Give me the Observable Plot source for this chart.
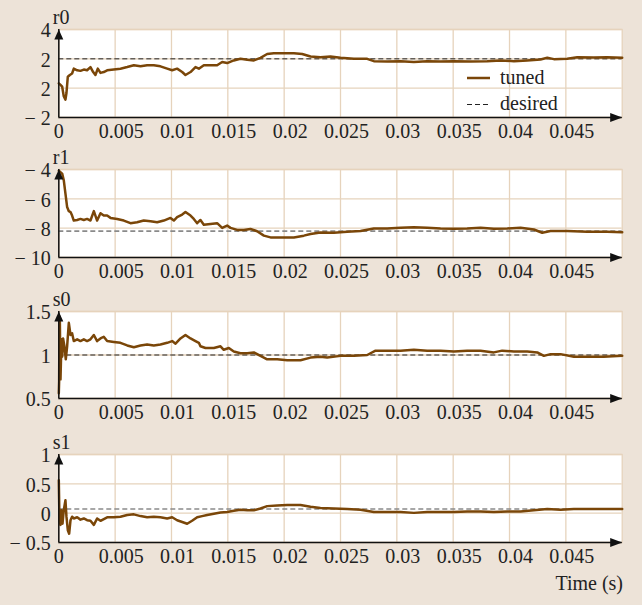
<!DOCTYPE html>
<html><head><meta charset="utf-8">
<script src="https://cdn.jsdelivr.net/npm/d3@7"></script>
<script src="https://cdn.jsdelivr.net/npm/@observablehq/plot@0.6"></script>
<style>
html,body{margin:0;padding:0;background:#ede3d8;}
#chart{position:relative;width:642px;height:605px;background:#ede3d8;font-family:"Liberation Serif","Times New Roman",serif;overflow:hidden;}
#chart .panel{position:absolute;left:0;}
#overlay{position:absolute;left:0;top:0;pointer-events:none;}
</style></head>
<body><div id="chart"></div>
<script>
// ---------- data (time in seconds) ----------
const r0Time = [0,0.00015,0.0003,0.00044,0.00059,0.00068,0.0008,0.00098,0.00118,0.00133,0.00163,0.00192,0.00222,0.00251,0.00281,0.00305,0.00325,0.00346,0.0037,0.00399,0.00429,0.00488,0.00547,0.00607,0.00666,0.00725,0.00784,0.00843,0.00902,0.00962,0.01006,0.0105,0.01095,0.01124,0.01169,0.01213,0.01243,0.01287,0.01346,0.01405,0.0145,0.01494,0.01553,0.01612,0.01672,0.01731,0.0179,0.01849,0.01908,0.01997,0.02086,0.0216,0.02234,0.02322,0.02411,0.025,0.02619,0.02737,0.02796,0.02914,0.03033,0.03151,0.03269,0.03388,0.03506,0.03654,0.03802,0.0392,0.04039,0.04157,0.04275,0.04335,0.04394,0.04512,0.04601,0.04749,0.04867,0.05];
const r0Tuned = [0.33,0.22,0.1,-0.55,-0.78,-0.33,0.78,0.9,1.0,1.33,1.22,1.18,1.27,1.22,1.44,1.1,0.9,1.33,1.04,1.1,1.22,1.27,1.33,1.44,1.56,1.49,1.56,1.56,1.49,1.33,1.22,1.33,1.1,0.9,1.1,1.44,1.33,1.56,1.56,1.56,1.78,1.71,1.89,2.0,1.93,1.89,2.07,2.33,2.38,2.38,2.38,2.33,2.16,2.1,2.16,2.07,2.0,2.0,1.84,1.82,1.84,1.78,1.84,1.82,1.84,1.82,1.84,1.89,1.84,1.89,1.96,2.07,1.98,2.0,2.11,2.09,2.11,2.07];
const r0Desired = 2;

const r1Time = [0,0.0003,0.00044,0.00059,0.00074,0.00089,0.00104,0.00118,0.00133,0.00163,0.00192,0.00222,0.00251,0.00281,0.00311,0.0034,0.0037,0.00399,0.00429,0.00459,0.00518,0.00577,0.00636,0.00695,0.00754,0.00814,0.00873,0.00932,0.00991,0.01021,0.0105,0.01095,0.01124,0.01169,0.01198,0.01228,0.01257,0.01287,0.01346,0.01405,0.0145,0.01494,0.01524,0.01583,0.01642,0.01701,0.0176,0.0182,0.01879,0.01997,0.02086,0.02175,0.02234,0.02322,0.02441,0.02559,0.02678,0.02796,0.02914,0.03033,0.03151,0.03269,0.03388,0.03506,0.03624,0.03743,0.03861,0.0398,0.04098,0.04216,0.0429,0.04364,0.04512,0.0469,0.04867,0.05];
const r1Tuned = [-4.09,-4.28,-4.73,-5.65,-6.56,-6.84,-6.9,-7.14,-7.48,-7.44,-7.37,-7.44,-7.37,-7.48,-6.84,-7.48,-6.98,-7.14,-7.14,-7.3,-7.37,-7.48,-7.66,-7.6,-7.48,-7.53,-7.6,-7.48,-7.3,-7.48,-7.25,-7.07,-6.9,-7.14,-7.37,-7.66,-7.44,-7.76,-7.71,-7.66,-7.98,-7.82,-7.98,-8.12,-8.12,-8.05,-8.21,-8.51,-8.63,-8.63,-8.63,-8.51,-8.4,-8.3,-8.31,-8.25,-8.2,-8.02,-8.02,-7.97,-7.93,-7.97,-8.02,-8.04,-8.02,-7.97,-8.04,-8.02,-7.97,-8.09,-8.31,-8.2,-8.2,-8.25,-8.25,-8.27];
const r1Desired = -8.2;

const s0Time = [0,0.00003,0.00006,0.00009,0.00015,0.00024,0.0003,0.00038,0.0005,0.00062,0.00074,0.00089,0.00104,0.00118,0.00133,0.00163,0.00192,0.00222,0.00251,0.00281,0.00311,0.0034,0.0037,0.00399,0.00429,0.00488,0.00547,0.00607,0.00666,0.00725,0.00784,0.00843,0.00902,0.00962,0.01006,0.01036,0.0108,0.01124,0.01169,0.01213,0.01243,0.01257,0.01302,0.01376,0.01435,0.01464,0.01509,0.01553,0.01612,0.01672,0.01731,0.0179,0.01849,0.01938,0.02027,0.02145,0.02234,0.02322,0.02382,0.025,0.02619,0.02737,0.02811,0.02914,0.03033,0.03151,0.03269,0.03388,0.03506,0.03624,0.03743,0.03861,0.03935,0.04039,0.04157,0.04246,0.04305,0.04364,0.04453,0.04571,0.0469,0.04837,0.05];
const s0Tuned = [0.56,0.7,1.37,1.44,0.72,1.18,0.98,1.19,1.1,0.95,1.1,1.37,1.23,1.25,1.16,1.18,1.16,1.18,1.16,1.18,1.23,1.16,1.19,1.21,1.16,1.15,1.14,1.11,1.09,1.11,1.12,1.11,1.12,1.14,1.16,1.13,1.19,1.23,1.19,1.16,1.14,1.1,1.08,1.08,1.1,1.06,1.08,1.04,1.02,1.02,1.03,0.99,0.95,0.95,0.94,0.94,0.97,0.98,0.97,0.99,0.99,1.0,1.05,1.05,1.05,1.06,1.05,1.05,1.04,1.05,1.05,1.03,1.05,1.04,1.04,1.03,0.99,1.01,1.01,0.98,0.98,0.98,0.99];
const s0Desired = 1;

const s1Time = [0,0.00006,0.00015,0.00024,0.00033,0.00044,0.00059,0.00068,0.0008,0.00092,0.00104,0.00118,0.00133,0.00163,0.00192,0.00222,0.00251,0.00281,0.00311,0.0034,0.0037,0.00429,0.00488,0.00547,0.00607,0.00666,0.00725,0.00784,0.00843,0.00902,0.00962,0.01006,0.0105,0.01095,0.01139,0.01183,0.01228,0.01272,0.01317,0.01376,0.01435,0.01494,0.01553,0.01612,0.01672,0.01731,0.0179,0.01849,0.01938,0.02027,0.02145,0.02234,0.02322,0.02441,0.02559,0.02678,0.02796,0.02914,0.03033,0.03151,0.03269,0.03388,0.03506,0.03624,0.03743,0.03861,0.0398,0.04098,0.04216,0.04335,0.04453,0.04571,0.0469,0.04867,0.05];
const s1Tuned = [0.56,-0.12,-0.2,0.05,-0.18,0.05,0.22,-0.06,-0.29,-0.35,-0.12,-0.06,-0.09,-0.07,-0.11,-0.09,-0.12,-0.13,-0.2,-0.09,-0.13,-0.07,-0.07,-0.06,-0.03,-0.02,-0.05,-0.07,-0.06,-0.07,-0.09,-0.07,-0.12,-0.15,-0.18,-0.13,-0.07,-0.05,-0.03,-0.01,0.01,0.02,0.04,0.06,0.05,0.05,0.08,0.12,0.13,0.14,0.14,0.11,0.09,0.08,0.07,0.06,0.02,0.02,0.02,0.005,0.02,0.02,0.02,0.03,0.03,0.02,0.03,0.03,0.05,0.07,0.06,0.07,0.07,0.07,0.07];
const s1Desired = 0.07;

// ---------- ticks ----------
const timeDomain = [0, 0.05];
const timeTicks = [0,0.005,0.01,0.015,0.02,0.025,0.03,0.035,0.04,0.045];
const timeLabels = ["0","0.005","0.01","0.015","0.02","0.025","0.03","0.035","0.04","0.045"];

const r0Domain = [-2, 4];
const r0Ticks = [-2, 0, 2, 4];
const r0Labels = ["\u2212 2", "2", "2", "4"];
const r1Domain = [-10, -4];
const r1Ticks = [-10, -8, -6, -4];
const r1Labels = ["\u2212 10", "\u2212 8", "\u2212 6", "\u2212 4"];
const s0Domain = [0.5, 1.5];
const s0Ticks = [0.5, 1, 1.5];
const s0Labels = ["0.5", "1", "1.5"];
const s1Domain = [-0.5, 1];
const s1Ticks = [-0.5, 0, 0.5, 1];
const s1Labels = ["\u2212 0.5", "0", "0.5", "1"];

const panelNames = ["r0", "r1", "s0", "s1"];
const legendLabels = ["tuned", "desired"];
const xTitle = "Time (s)";

// ---------- styles ----------
const BG = "#ede3d8", GRID = "#e6d3bc", CURVE = "#7a4608", FONT = "Liberation Serif, Times New Roman, serif", FS = 20;

const arrowUp = {draw(ctx){ctx.moveTo(0,0);ctx.lineTo(-4.5,10);ctx.lineTo(4.5,10);ctx.closePath();}};
const arrowRight = {draw(ctx){ctx.moveTo(0,0);ctx.lineTo(-12,-4.5);ctx.lineTo(-12,4.5);ctx.closePath();}};

const panels = [
  {name: panelNames[0], time: r0Time, vals: r0Tuned, desired: r0Desired, domain: r0Domain, ticks: r0Ticks, labels: r0Labels, top: 0, inner: 88, dash: {stroke: "#222", w: 1}},
  {name: panelNames[1], time: r1Time, vals: r1Tuned, desired: r1Desired, domain: r1Domain, ticks: r1Ticks, labels: r1Labels, top: 140, inner: 88, dash: {stroke: "#8a8a8a", w: 1.6}},
  {name: panelNames[2], time: s0Time, vals: s0Tuned, desired: s0Desired, domain: s0Domain, ticks: s0Ticks, labels: s0Labels, top: 282, inner: 87, dash: {stroke: "#222", w: 1}},
  {name: panelNames[3], time: s1Time, vals: s1Tuned, desired: s1Desired, domain: s1Domain, ticks: s1Ticks, labels: s1Labels, top: 425, inner: 88, dash: {stroke: "#8a8a8a", w: 1.6}}
];

const chart = document.getElementById("chart");
for (const p of panels) {
  const data = p.time.map((t, i) => ({t, v: p.vals[i]}));
  const mt = 29, mb = 24;
  const svg = Plot.plot({
    width: 642,
    height: mt + p.inner + mb,
    marginLeft: 58.3,
    marginRight: 20.3,
    marginTop: mt,
    marginBottom: mb,
    style: {background: "transparent", fontFamily: FONT, fontSize: FS + "px", color: "#222", overflow: "visible"},
    x: {domain: timeDomain, axis: null},
    y: {domain: p.domain, axis: null},
    marks: [
      Plot.frame({fill: "white", stroke: null}),
      Plot.gridX(timeTicks, {stroke: GRID, strokeOpacity: 1, strokeWidth: 1.3}),
      Plot.gridY(p.ticks, {stroke: GRID, strokeOpacity: 1, strokeWidth: 1.3}),
      Plot.frame({stroke: GRID, strokeWidth: 1.3}),
      Plot.ruleY([p.desired], {stroke: p.dash.stroke, strokeWidth: p.dash.w, strokeDasharray: "5,3"}),
      Plot.line(data, {x: "t", y: "v", stroke: CURVE, strokeWidth: 2.5, strokeLinejoin: "round"}),
      Plot.ruleX([timeDomain[0]], {stroke: "#111", strokeWidth: 1.5}),
      Plot.ruleY([p.domain[0]], {stroke: "#111", strokeWidth: 1.5}),
      Plot.dot([0], {x: () => timeDomain[0], y: () => p.domain[1], symbol: arrowUp, fill: "#111", stroke: null}),
      Plot.dot([0], {x: () => timeDomain[1], y: () => p.domain[0], symbol: arrowRight, fill: "#111", stroke: null}),
      Plot.text(timeTicks.slice(0, 1), {x: d => d, text: (d, i) => timeLabels[i], frameAnchor: "bottom", lineAnchor: "top", dy: 6, fontSize: FS, fill: "#222"}),
      Plot.text(timeTicks.slice(1), {x: d => d, text: (d, i) => timeLabels[i + 1], frameAnchor: "bottom", lineAnchor: "top", dy: 6, dx: 6, fontSize: FS, fill: "#222"}),
      Plot.text(p.ticks, {y: d => d, text: (d, i) => p.labels[i], frameAnchor: "left", textAnchor: "end", dx: -8, dy: 1.5, fontSize: FS, fill: "#222"}),
      Plot.text([p.name], {frameAnchor: "top-left", textAnchor: "start", lineAnchor: "middle", dx: -6, dy: -12, fontSize: FS, fill: "#222"})
    ]
  });
  svg.classList.add("panel");
  svg.style.top = p.top + "px";
  chart.appendChild(svg);
}

// legend and x title overlay
const ns = "http://www.w3.org/2000/svg";
const ov = document.createElementNS(ns, "svg");
ov.setAttribute("id", "overlay");
ov.setAttribute("width", 642);
ov.setAttribute("height", 605);
function el(tag, attrs, txt) {
  const e = document.createElementNS(ns, tag);
  for (const k in attrs) e.setAttribute(k, attrs[k]);
  if (txt != null) e.textContent = txt;
  ov.appendChild(e);
  return e;
}
const tf = {"font-family": FONT, "font-size": FS, fill: "#222"};
el("line", {x1: 467, x2: 490, y1: 78, y2: 78, stroke: CURVE, "stroke-width": 2.5});
el("text", {x: 500, y: 84, ...tf}, legendLabels[0]);
el("line", {x1: 467, x2: 490, y1: 104.5, y2: 104.5, stroke: "#222", "stroke-width": 1, "stroke-dasharray": "5,3"});
el("text", {x: 500, y: 110, ...tf}, legendLabels[1]);
el("text", {x: 623, y: 590, "text-anchor": "end", ...tf}, xTitle);
chart.appendChild(ov);
</script>
</body></html>
